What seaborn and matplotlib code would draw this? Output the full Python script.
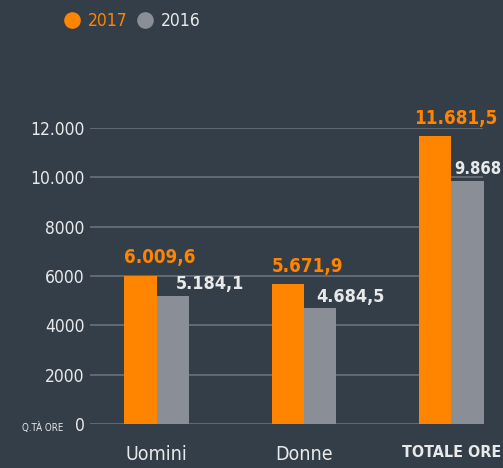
import pandas as pd
import matplotlib.pyplot as plt
import seaborn as sns
from matplotlib.lines import Line2D

categories = ['Uomini', 'Donne', 'TOTALE ORE']
years = ['2017', '2016']
values_2017 = [6009.6, 5671.9, 11681.5]
values_2016 = [5184.1, 4684.5, 9868.0]
labels_2017 = ['6.009,6', '5.671,9', '11.681,5']
labels_2016 = ['5.184,1', '4.684,5', '9.868']
y_ticks = [0, 2000, 4000, 6000, 8000, 10000, 12000]
y_tick_labels = ['0', '2000', '4000', '6000', '8000', '10.000', '12.000']

bg = '#343e48'
orange = '#ff8400'
grey = '#8a8f97'
grid_col = '#6f767e'
txt = '#e8e9ea'

df = pd.DataFrame({
    'categoria': categories * 2,
    'anno': [years[0]] * 3 + [years[1]] * 3,
    'ore': values_2017 + values_2016,
})

sns.set_style('dark')
plt.rcParams['font.family'] = ['DejaVu Sans']
plt.rcParams['font.stretch'] = 'condensed'

fig = plt.figure(figsize=(5.03, 4.68), dpi=100, facecolor=bg)
ax = fig.add_axes([90 / 503, 44 / 468, 393 / 503, 296 / 468])
ax.set_facecolor(bg)

sns.barplot(
    data=df, x='categoria', y='ore', hue='anno',
    palette={years[0]: orange, years[1]: grey},
    width=0.44, gap=0, saturation=1, linewidth=0, legend=False, ax=ax
)

ax.set_ylim(0, 12000)
ax.set_xlim(-0.453, 2.215)
ax.set_yticks(y_ticks)
ax.set_yticklabels(y_tick_labels)
ax.yaxis.grid(True, color=grid_col, linewidth=1.1)
ax.xaxis.grid(False)
for s in ax.spines.values():
    s.set_visible(False)
ax.tick_params(axis='y', length=0, pad=4, labelsize=12.5, labelcolor=txt)
ax.tick_params(axis='x', length=0, pad=15, labelsize=14, labelcolor=txt)
ax.set_xlabel('')
ax.set_ylabel('')
tot = ax.get_xticklabels()[2]
tot.set_fontweight('bold')
tot.set_fontsize(11.5)
for p in ax.patches:
    p.set_clip_on(False)

# value labels
bars_2017 = ax.containers[0]
bars_2016 = ax.containers[1]
for bar, lab in zip(bars_2017, labels_2017):
    x0 = bar.get_x()
    dx = -0.035 if lab == labels_2017[2] else 0.0
    ax.annotate(lab, (x0 + dx, bar.get_height()), xytext=(0, 6),
                textcoords='offset points', ha='left', va='bottom',
                color=orange, fontsize=13.5, fontweight='bold',
                annotation_clip=False)
for bar, lab, off, fs in zip(bars_2016, labels_2016, [0.13, 0.08, 0.02],
                             [13, 13, 12]):
    ax.annotate(lab, (bar.get_x() + off, bar.get_height()), xytext=(0, 2),
                textcoords='offset points', ha='left', va='bottom',
                color=txt, fontsize=fs, fontweight='bold',
                annotation_clip=False)

fig.text(22 / 503, 1 - 427 / 468, 'Q.TÀ ORE', color=txt, fontsize=7,
         va='center', ha='left')

# legend
handles = [
    Line2D([], [], marker='o', linestyle='', markersize=12,
           markerfacecolor=orange, markeredgewidth=0),
    Line2D([], [], marker='o', linestyle='', markersize=12,
           markerfacecolor=grey, markeredgewidth=0),
]
leg = fig.legend(handles, years, loc='center left',
                 bbox_to_anchor=(46 / 503, 1 - 21 / 468), ncol=2,
                 frameon=False, fontsize=12.5, handletextpad=0.3,
                 columnspacing=0.4, handlelength=1.2)
leg.get_texts()[0].set_color(orange)
leg.get_texts()[1].set_color(txt)

fig.savefig('out.png', dpi=100, facecolor=bg)
